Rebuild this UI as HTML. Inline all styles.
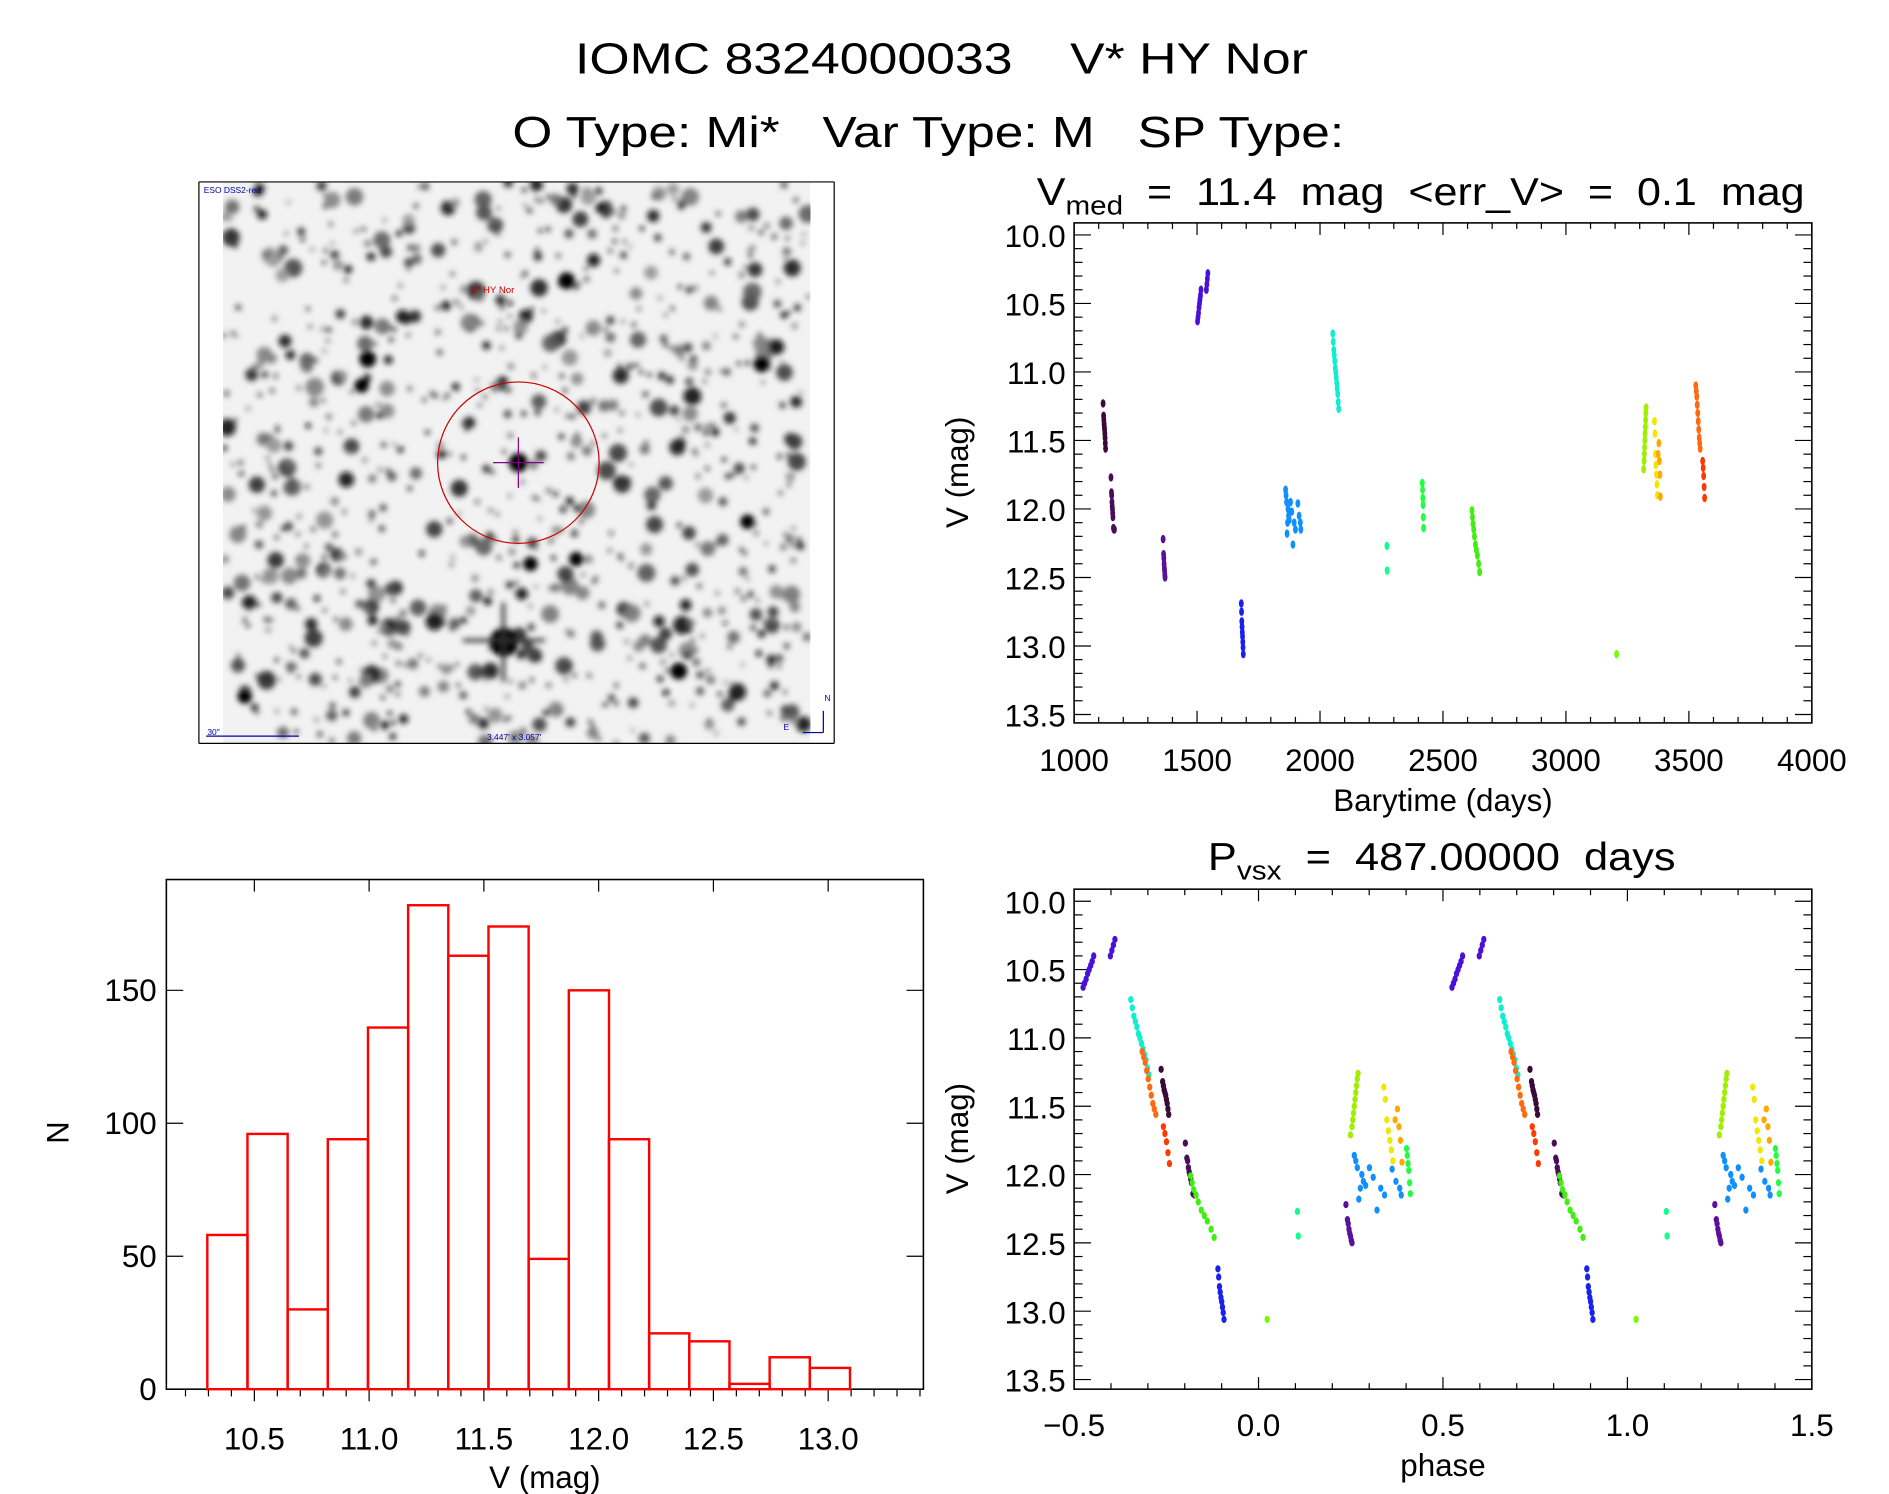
<!DOCTYPE html>
<html><head><meta charset="utf-8"><style>
html,body{margin:0;padding:0;background:#fff;}
svg{display:block;font-family:"Liberation Sans",sans-serif;}
text{white-space:pre;}
</style></head><body>
<svg id="fig" width="1889" height="1494" viewBox="0 0 1567 1240" preserveAspectRatio="none" xmlns="http://www.w3.org/2000/svg">
<defs>
<filter id="blur" x="-20%" y="-20%" width="140%" height="140%"><feGaussianBlur stdDeviation="2.4"/></filter>
<clipPath id="imgclip"><rect x="185" y="151" width="487" height="466"/></clipPath>
</defs>
<text x="477" y="61" font-size="36" textLength="608" lengthAdjust="spacingAndGlyphs">IOMC 8324000033    V* HY Nor</text>
<text x="425" y="122" font-size="36" textLength="690" lengthAdjust="spacingAndGlyphs">O Type: Mi*   Var Type: M   SP Type:</text>

<g>
<rect x="185" y="151" width="487" height="466" fill="#f2f2f2"/>
<g id="stars" clip-path="url(#imgclip)" filter="url(#blur)"></g>
<line x1="165" y1="151" x2="692" y2="151" stroke="#000" stroke-width="1"/>
<line x1="165" y1="617" x2="692" y2="617" stroke="#000" stroke-width="1"/>
<line x1="165" y1="151" x2="165" y2="617" stroke="#000" stroke-width="1"/>
<line x1="692" y1="151" x2="692" y2="617" stroke="#000" stroke-width="1"/>
<circle cx="430" cy="384" r="67" fill="none" stroke="#c00" stroke-width="1"/>
<line x1="430" y1="363" x2="430" y2="405" stroke="#808" stroke-width="1"/>
<line x1="409" y1="384" x2="451" y2="384" stroke="#808" stroke-width="1"/>
<text x="390" y="243" font-size="8" fill="#c00">V* HY Nor</text>
<text x="169" y="160" font-size="7" fill="#00a">ESO DSS2-red</text>
<text x="172" y="610" font-size="7" fill="#00a">30"</text>
<line x1="171" y1="611" x2="248" y2="611" stroke="#00a" stroke-width="1"/>
<text x="404" y="614" font-size="7" fill="#00a">3.447' x 3.057'</text>
<line x1="683" y1="608" x2="683" y2="590" stroke="#00a" stroke-width="1"/>
<line x1="666" y1="608" x2="683" y2="608" stroke="#00a" stroke-width="1"/>
<text x="684" y="582" font-size="7" fill="#00a">N</text>
<text x="650" y="606" font-size="7" fill="#00a">E</text>
</g>

<g id="lc"></g>
<g id="ph"></g>
<g id="hist"></g>
</svg>
<script>
// ---- data ----
const seasonTimes = [
 [1118,1120,1121,1122,1123,1124,1125,1126,1127,1128],
 [1150,1152,1153,1154,1155,1156,1157,1158,1160,1162,1164],
 [1362,1364,1365,1366,1367,1368,1369,1370],
 [1502,1504,1506,1508,1510,1512,1514,1516,1538,1540,1542,1544],
 [1680,1681,1682,1683,1684,1685,1686,1687,1688],
 [1860,1862,1864,1866,1868,1870,1872,1875,1880,1885,1890,1895,1900,1910,1915,1920,1922],
 [2052,2054,2056,2058,2060,2062,2064,2066,2068,2070,2072,2074,2076],
 [2272,2273],
 [2416,2417,2418,2419,2420,2421],
 [2618,2620,2622,2625,2628,2632,2636,2640,2645,2649],
 [3206],
 [3316,3318,3319,3320,3321,3322,3323,3324,3325,3326],
 [3360,3362,3364,3366,3368,3370,3372],
 [3375,3378,3380,3382,3384],
 [3528,3530,3532,3534,3536,3538,3540,3542,3544,3546],
 [3556,3558,3560,3562,3564]
];
const seasonMags = [
 [11.23,11.32,11.35,11.38,11.40,11.42,11.45,11.48,11.52,11.56],
 [11.77,11.88,11.90,11.95,11.98,12.00,12.03,12.06,12.14,12.15,12.15],
 [12.22,12.33,12.36,12.40,12.43,12.45,12.48,12.50],
 [10.63,10.60,10.57,10.53,10.50,10.47,10.44,10.40,10.40,10.36,10.32,10.28],
 [12.69,12.75,12.82,12.86,12.90,12.93,12.97,13.01,13.06],
 [11.86,11.90,11.95,12.18,12.10,12.00,12.05,12.08,11.95,12.02,12.26,12.10,12.15,11.96,12.05,12.10,12.15],
 [10.72,10.78,10.84,10.88,10.92,10.97,11.00,11.04,11.08,11.12,11.16,11.22,11.27],
 [12.27,12.45],
 [11.81,11.86,11.92,11.97,12.06,12.14],
 [12.01,12.06,12.11,12.15,12.20,12.26,12.30,12.34,12.40,12.46],
 [13.06],
 [11.71,11.65,11.60,11.55,11.50,11.45,11.40,11.35,11.30,11.26],
 [11.36,11.45,11.60,11.68,11.75,11.82,11.90],
 [11.60,11.52,11.65,11.75,11.91],
 [11.10,11.14,11.18,11.24,11.30,11.36,11.42,11.48,11.52,11.56],
 [11.65,11.70,11.76,11.84,11.92]
];
const seasonColors = ["#3a0a3a","#4a0d5a","#5a1098","#4a10d8","#1a20f0","#1090ff","#10eed0","#10ff90","#20ff40","#40ee10","#70ff00","#a0ee00","#f0e800","#ffa800","#ff6a10","#ff3a00"];
const period = 487.0;
const epoch = 1246.6;
const histLeftEdge = 10.295;
const histBinWidth = 0.175;
const histCounts = [58,96,30,94,136,182,163,174,49,150,94,21,18,2,12,8];
const lcXTicks = [1000,1500,2000,2500,3000,3500,4000];
const magTicks = [10.0,10.5,11.0,11.5,12.0,12.5,13.0,13.5];
const phaseTicks = [-0.5,0.0,0.5,1.0,1.5];
const histXTicks = [10.5,11.0,11.5,12.0,12.5,13.0];
const histYTicks = [0,50,100,150];

const NS="http://www.w3.org/2000/svg";
function el(parent,tag,attrs){const e=document.createElementNS(NS,tag);for(const k in attrs)e.setAttribute(k,attrs[k]);parent.appendChild(e);return e;}
function txt(parent,x,y,s,size,anchor){const t=el(parent,'text',{x:x,y:y,'font-size':size,'text-anchor':anchor||'middle'});t.textContent=s;return t;}

// ---- star field (decorative) ----
(function(){
 const g=document.getElementById('stars');
 let s=12345;function rnd(){s=(s*1103515245+12345)%2147483648;return s/2147483648;}
 for(let i=0;i<900;i++){
  const x=185+rnd()*487,y=151+rnd()*466,r=1.8+Math.pow(rnd(),3)*6;
  const v=Math.floor(10+rnd()*140);
  el(g,'circle',{cx:x,cy:y,r:r,fill:`rgb(${v},${v},${v})`,opacity:0.9});
 }
 [[418,533,12],[430,384,8],[305,298,7],[470,233,7],[563,557,7],[632,302,7],[203,578,6],[300,320,6],[478,464,6],[440,468,6],[620,433,6]].forEach(p=>el(g,'circle',{cx:p[0],cy:p[1],r:p[2],fill:'#000'}));
 el(g,'rect',{x:384,y:530,width:68,height:3,fill:'#333'});
 el(g,'rect',{x:416,y:500,width:3,height:66,fill:'#333'});
})();

// ---- axis frame helper ----
function frame(g,L,R,T,B,xs,x0,x1,xMaj,xMin,ys,y0,y1,yMaj,yMin,xTopMinor){
 el(g,'rect',{x:L,y:T,width:R-L,height:B-T,fill:'none',stroke:'#000','stroke-width':1.3});
 const eps=1e-9;
 for(let v=Math.ceil(x0/xMin-eps)*xMin; v<=x1+eps; v+=xMin){
  const isMaj=Math.abs(v/xMaj-Math.round(v/xMaj))<1e-6;const X=xs(v);const len=isMaj?10:5;
  el(g,'line',{x1:X,y1:B,x2:X,y2:B-len,stroke:'#000','stroke-width':1});
  if(isMaj||xTopMinor) el(g,'line',{x1:X,y1:T,x2:X,y2:T+len,stroke:'#000','stroke-width':1});
 }
 for(let v=Math.ceil(Math.min(y0,y1)/yMin-eps)*yMin; v<=Math.max(y0,y1)+eps; v+=yMin){
  const isMaj=Math.abs(v/yMaj-Math.round(v/yMaj))<1e-6;const Y=ys(v);const len=isMaj?14:7;
  el(g,'line',{x1:L,y1:Y,x2:L+len,y2:Y,stroke:'#000','stroke-width':1});
  el(g,'line',{x1:R,y1:Y,x2:R-len,y2:Y,stroke:'#000','stroke-width':1});
 }
}

// ---- light curve ----
(function(){
 const g=document.getElementById('lc');
 const L=891,R=1503,T=185,B=600;
 const xs=v=>L+(v-1000)/3000*(R-L);
 const ys=m=>195+(m-10)/3.5*(593-195);
 frame(g,L,R,T,B,xs,1000,4000,500,100,ys,(10-(195-T)/113.7),(10+(B-195)/113.7),0.5,0.1,true);
 lcXTicks.forEach(v=>{const t=txt(g,xs(v),640,String(v),26);});
 magTicks.forEach(v=>{const t=txt(g,884,ys(v)+10,v.toFixed(1),26,'end');});
 const xt=txt(g,1197,673,'Barytime (days)',26);
 
 
 const yt=txt(g,0,0,'V (mag)',26);yt.setAttribute('transform','translate(803,392) rotate(-90)');
 
 
 const ti=el(g,'text',{x:860,y:170,'font-size':32,textLength:637,lengthAdjust:'spacingAndGlyphs'});
 ti.innerHTML='V<tspan font-size="22" dy="8">med</tspan><tspan dy="-8">  =  11.4  mag  &lt;err_V&gt;  =  0.1  mag</tspan>';
 
 
 seasonTimes.forEach((ts,si)=>ts.forEach((t,i)=>{
  const c=el(g,'ellipse',{cx:xs(t),cy:ys(seasonMags[si][i]),rx:2,ry:3.5,fill:seasonColors[si]});
  
  
 }));
})();

// ---- phase plot ----
(function(){
 const g=document.getElementById('ph');
 const L=891,R=1503,T=738,B=1153;
 const xs=v=>L+(v+0.5)/2*(R-L);
 const ys=m=>748+(m-10)/3.5*(1145-748);
 const k=(1145-748)/3.5;
 frame(g,L,R,T,B,xs,-0.5,1.5,0.5,0.1,ys,10-(748-T)/k,10+(B-748)/k,0.5,0.1,true);
 phaseTicks.forEach(v=>{const t=txt(g,xs(v),1192,(v<0?'\u22120.5':v.toFixed(1)),26);});
 magTicks.forEach(v=>{const t=txt(g,884,ys(v)+10,v.toFixed(1),26,'end');});
 const xt=txt(g,1197,1225,'phase',26);
 
 
 const yt=txt(g,0,0,'V (mag)',26);yt.setAttribute('transform','translate(803,945) rotate(-90)');
 
 
 const ti=el(g,'text',{x:1002,y:722,'font-size':32,textLength:388,lengthAdjust:'spacingAndGlyphs'});
 ti.innerHTML='P<tspan font-size="22" dy="8">vsx</tspan><tspan dy="-8">  =  487.00000  days</tspan>';
 
 
 seasonTimes.forEach((ts,si)=>ts.forEach((t,i)=>{
  let p=((t-epoch)/period)%1; if(p<0)p+=1; if(p>=0.5)p-=1;
  [p,p+1].forEach(pp=>{
   const c=el(g,'ellipse',{cx:xs(pp),cy:ys(seasonMags[si][i]),rx:2.2,ry:3,fill:seasonColors[si]});
   
   
  });
 }));
})();

// ---- histogram ----
(function(){
 const g=document.getElementById('hist');
 const L=138,R=766,T=730,B=1153;
 const xs=v=>211+(v-10.5)*190.4;
 const ys=n=>1153-n*2.207;
 el(g,'rect',{x:L,y:T,width:R-L,height:B-T,fill:'none',stroke:'#000','stroke-width':1.3});
 for(let i=0;i<=33;i++){const v=10.1+i*0.1;const X=xs(v);if(X<L||X>R)continue;
  const maj=Math.abs(v*2-Math.round(v*2))<1e-6;
  el(g,'line',{x1:X,y1:B,x2:X,y2:B+(maj?10:6),stroke:'#000','stroke-width':1});
  if(maj) el(g,'line',{x1:X,y1:T,x2:X,y2:T+10,stroke:'#000','stroke-width':1});
 }
 histYTicks.forEach(v=>{const Y=ys(v);
  el(g,'line',{x1:L,y1:Y,x2:L+14,y2:Y,stroke:'#000','stroke-width':1});
  el(g,'line',{x1:R,y1:Y,x2:R-14,y2:Y,stroke:'#000','stroke-width':1});
  const t=txt(g,130,Y+9,String(v),26,'end');
  
  
 });
 histXTicks.forEach(v=>{const t=txt(g,xs(v),1203,v.toFixed(1),26);});
 const xt=txt(g,452,1235,'V (mag)',26);
 
 
 const yt=txt(g,0,0,'N',26);yt.setAttribute('transform','translate(57,940) rotate(-90)');
 
 
 histCounts.forEach((n,i)=>{
  const x0=xs(histLeftEdge+i*histBinWidth),x1=xs(histLeftEdge+(i+1)*histBinWidth);
  const r=el(g,'rect',{x:x0,y:ys(n),width:x1-x0,height:ys(0)-ys(n),fill:'none',stroke:'#f00','stroke-width':2});
  
  
 });
})();
</script>
</body></html>
